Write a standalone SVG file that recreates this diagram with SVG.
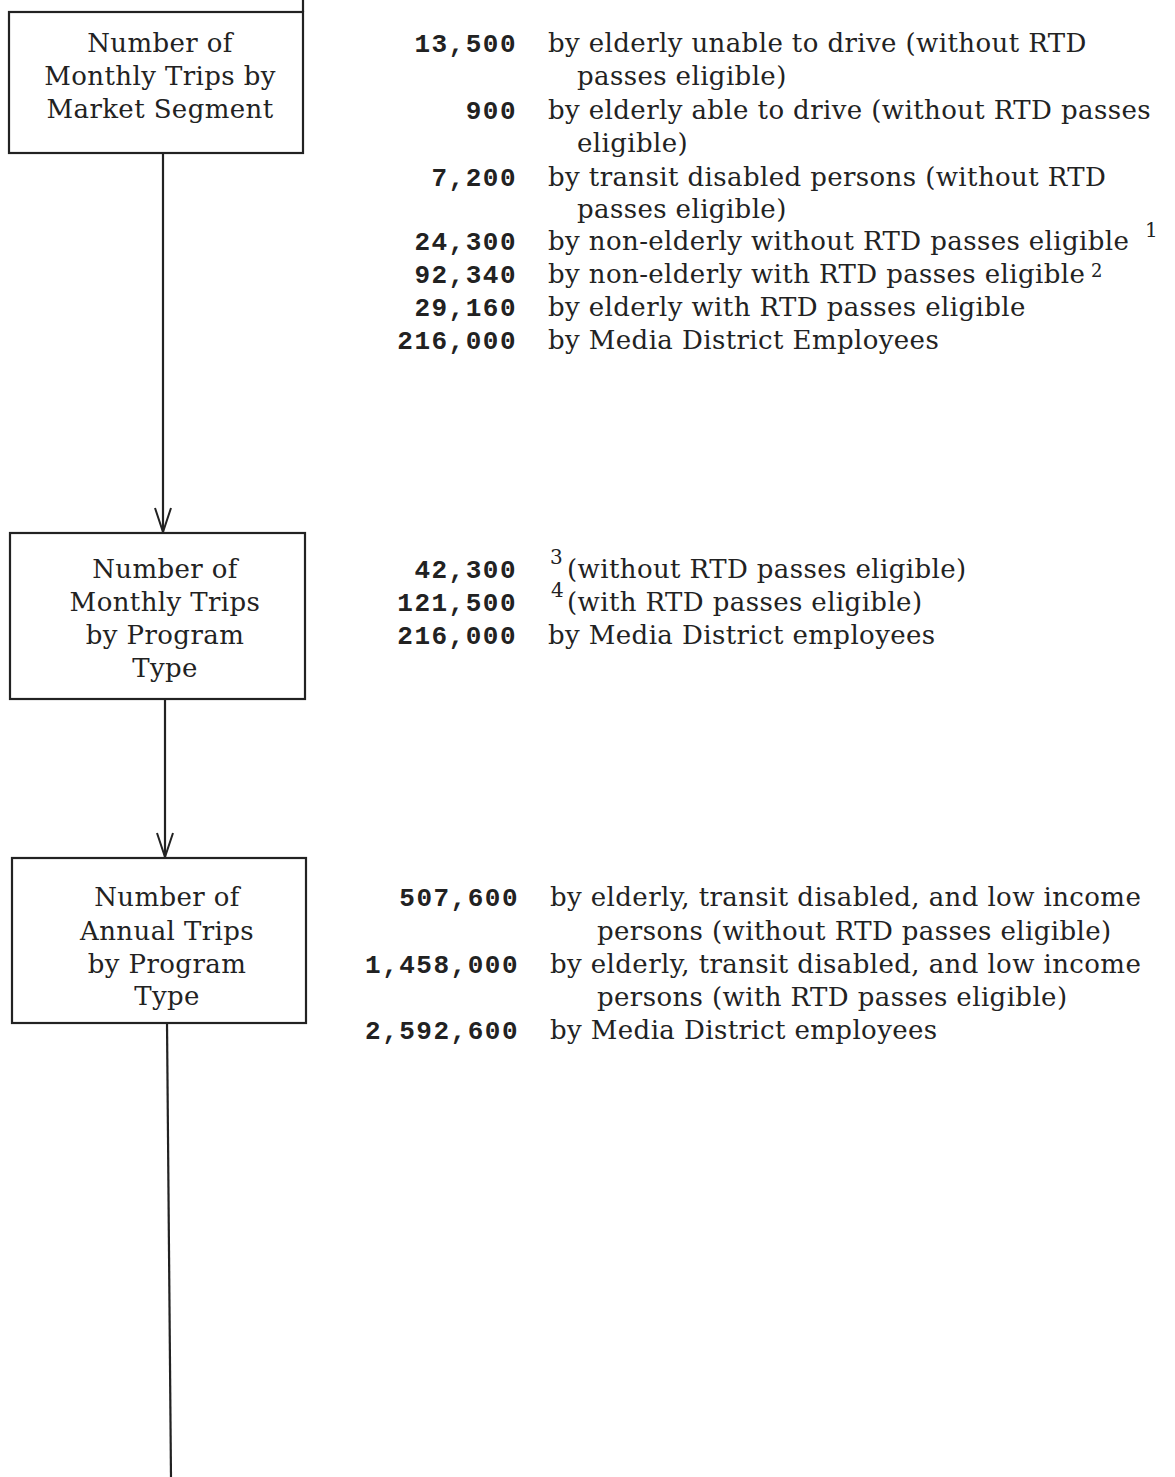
<svg xmlns="http://www.w3.org/2000/svg" width="1175" height="1477" viewBox="0 0 1175 1477">
<style>
.box{fill:#fff;stroke:#222;stroke-width:2.2}
.bt{font-family:"DejaVu Serif","Liberation Serif",serif;font-size:26px;letter-spacing:0.4px;fill:#222;text-anchor:middle}
.num{font-family:"Liberation Mono","DejaVu Sans Mono",monospace;font-size:26px;font-weight:bold;letter-spacing:1.5px;fill:#222;text-anchor:end}
.d{font-family:"DejaVu Serif","Liberation Serif",serif;font-size:26px;letter-spacing:0.4px;fill:#222}
.sup{font-family:"DejaVu Serif","Liberation Serif",serif;font-size:20px;fill:#222}
.ln{stroke:#222;stroke-width:2.2;fill:none}
</style>
<defs>
<marker id="vee" markerWidth="26" markerHeight="18" refX="25" refY="9" orient="auto" markerUnits="userSpaceOnUse" viewBox="0 0 26 18">
<path d="M1,1 L25,9 L1,17" fill="none" stroke="#222" stroke-width="2"/>
</marker>
</defs>
<rect width="1175" height="1477" fill="#fff"/>
<g id="connectors">
<line class="ln" x1="163" y1="153" x2="163" y2="532" marker-end="url(#vee)"/>
<line class="ln" x1="165" y1="699" x2="165" y2="857" marker-end="url(#vee)"/>
<line class="ln" x1="167" y1="1023" x2="171" y2="1477"/>
<line class="ln" x1="303" y1="0" x2="303" y2="12"/>
</g>
<g id="node1">
<rect class="box" x="9" y="12" width="294" height="141"/>
<text class="bt" x="160" y="52">Number of</text>
<text class="bt" x="160" y="85">Monthly Trips by</text>
<text class="bt" x="160" y="118">Market Segment</text>
</g>
<g id="node2">
<rect class="box" x="10" y="533" width="295" height="166"/>
<text class="bt" x="165" y="578">Number of</text>
<text class="bt" x="165" y="611">Monthly Trips</text>
<text class="bt" x="165" y="644">by Program</text>
<text class="bt" x="165" y="677">Type</text>
</g>
<g id="node3">
<rect class="box" x="12" y="858" width="294" height="165"/>
<text class="bt" x="167" y="906">Number of</text>
<text class="bt" x="167" y="940">Annual Trips</text>
<text class="bt" x="167" y="973">by Program</text>
<text class="bt" x="167" y="1005">Type</text>
</g>
<g id="list1">
<text class="num" x="517" y="52">13,500</text>
<text class="d" x="548" y="52">by elderly unable to drive (without RTD</text>
<text class="d" x="577" y="85">passes eligible)</text>
<text class="num" x="517" y="119">900</text>
<text class="d" x="548" y="119">by elderly able to drive (without RTD passes</text>
<text class="d" x="577" y="152">eligible)</text>
<text class="num" x="517" y="186">7,200</text>
<text class="d" x="548" y="186">by transit disabled persons (without RTD</text>
<text class="d" x="577" y="218">passes eligible)</text>
<text class="num" x="517" y="250">24,300</text>
<text class="d" x="548" y="250">by non-elderly without RTD passes eligible</text>
<text class="sup" x="1145" y="237">1</text>
<text class="num" x="517" y="283">92,340</text>
<text class="d" x="548" y="283">by non-elderly with RTD passes eligible</text>
<text class="sup" x="1091" y="277" style="font-size:18px">2</text>
<text class="num" x="517" y="316">29,160</text>
<text class="d" x="548" y="316">by elderly with RTD passes eligible</text>
<text class="num" x="517" y="349">216,000</text>
<text class="d" x="548" y="349">by Media District Employees</text>
</g>
<g id="list2">
<text class="num" x="517" y="578">42,300</text>
<text class="sup" x="550" y="564">3</text>
<text class="d" x="567" y="578">(without RTD passes eligible)</text>
<text class="num" x="517" y="611">121,500</text>
<text class="sup" x="551" y="597">4</text>
<text class="d" x="567" y="611">(with RTD passes eligible)</text>
<text class="num" x="517" y="644">216,000</text>
<text class="d" x="548" y="644">by Media District employees</text>
</g>
<g id="list3">
<text class="num" x="519" y="906">507,600</text>
<text class="d" x="550" y="906">by elderly, transit disabled, and low income</text>
<text class="d" x="597" y="940">persons (without RTD passes eligible)</text>
<text class="num" x="519" y="973">1,458,000</text>
<text class="d" x="550" y="973">by elderly, transit disabled, and low income</text>
<text class="d" x="597" y="1006">persons (with RTD passes eligible)</text>
<text class="num" x="519" y="1039">2,592,600</text>
<text class="d" x="550" y="1039">by Media District employees</text>
</g>
</svg>
